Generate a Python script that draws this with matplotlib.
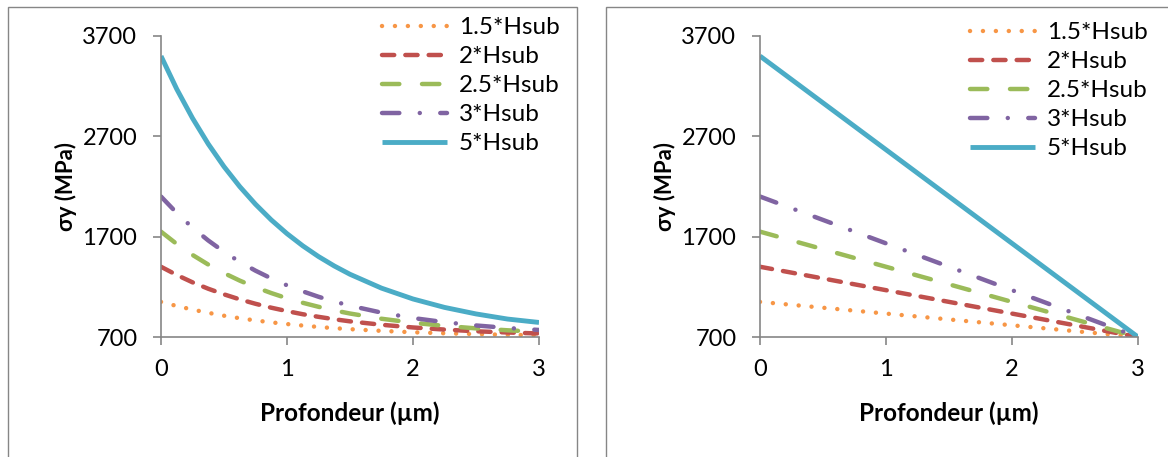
import matplotlib
matplotlib.use("Agg")
import matplotlib.pyplot as plt
from matplotlib.patches import Rectangle

plt.rcParams['font.family'] = ['Lato', 'DejaVu Sans']

# depth (um)
x_curve = [0, 0.125, 0.25, 0.375, 0.5, 0.625, 0.75, 0.875, 1, 1.125, 1.25,
           1.375, 1.5, 1.75, 2, 2.25, 2.5, 2.75, 3]
x_line = [0, 3]

labels = ["1.5*Hsub", "2*Hsub", "2.5*Hsub", "3*Hsub", "5*Hsub"]
colors = ["#F79646", "#C0504D", "#9BBB59", "#8064A2", "#4BACC6"]

# left panel: decay curves
left_15 = [1050, 1009, 973, 941, 912, 887, 865, 846, 829, 814, 800, 788, 778,
           761, 747, 737, 729, 722, 717]
left_2 = [1400, 1318, 1245, 1181, 1125, 1075, 1031, 992, 958, 927, 901, 877,
          856, 822, 795, 774, 757, 745, 735]
left_25 = [1750, 1627, 1518, 1422, 1337, 1262, 1196, 1138, 1086, 1041, 1001,
           965, 934, 882, 842, 811, 786, 767, 752]
left_3 = [2100, 1936, 1790, 1662, 1549, 1449, 1361, 1284, 1215, 1155, 1101,
          1054, 1012, 943, 889, 848, 815, 790, 770]
left_5 = [3500, 3171, 2881, 2624, 2398, 2199, 2023, 1867, 1730, 1609, 1502,
          1408, 1325, 1187, 1079, 995, 930, 879, 845]

# right panel: straight lines down to 700 at 3 um
right_15 = [1050, 700]
right_2 = [1400, 700]
right_25 = [1750, 700]
right_3 = [2100, 700]
right_5 = [3500, 700]

styles = [(0, (0.01, 2.9)), (0, (2.75, 2.5)), (0, (3.9, 5.1)),
          (0, (3.9, 4.6, 0.01, 4.6)), "-"]
widths = [3.2, 3.2, 3.2, 3.2, 3.5]

W, H = 1168, 457
fig = plt.figure(figsize=(W / 100, H / 100), dpi=100)
grey = "#868686"

# panel borders
for (x0, x1) in [(8, 577), (605.5, 1190)]:
    fig.add_artist(Rectangle((x0 / W, -0.05), (x1 - x0) / W, 1.05 - 6.5 / H,
                             transform=fig.transFigure, fill=False,
                             edgecolor=grey, lw=1.0))

panels = [
    (161, [left_15, left_2, left_25, left_3, left_5], x_curve, 382, 17),
    (760, [right_15, right_2, right_25, right_3, right_5], x_line, 970, 22),
]

for left_px, series, xs, leg_x, leg_y in panels:
    ax = fig.add_axes([left_px / W, (H - 337) / H, 378 / W, 301 / H])
    for ys, lab, c, ls, lw in zip(series, labels, colors, styles, widths):
        ax.plot(xs, ys, color=c, linestyle=ls, lw=lw, label=lab,
                dash_capstyle='round', solid_capstyle='butt')
    ax.set_xlim(0, 3)
    ax.set_ylim(700, 3700)
    ax.set_xticks([0, 1, 2, 3])
    ax.set_yticks([700, 1700, 2700, 3700])
    for s in ["top", "right"]:
        ax.spines[s].set_visible(False)
    for s in ["left", "bottom"]:
        ax.spines[s].set_color(grey)
        ax.spines[s].set_linewidth(1.2)
    ax.tick_params(axis='y', direction='out', length=6, width=1.2, color=grey,
                   pad=11, labelsize=17)
    ax.tick_params(axis='x', direction='out', length=6, width=1.2, color=grey,
                   pad=10, labelsize=17)
    ax.set_xlabel("Profondeur (µm)", fontsize=17.5, fontweight='bold', va='center')
    ax.set_ylabel("σy (MPa)", fontsize=16, fontweight='bold', va='center')
    ax.xaxis.set_label_coords(0.5, -0.252)
    ax.yaxis.set_label_coords(-0.251, 0.5)
    ax.legend(loc='upper left', bbox_to_anchor=(leg_x / W, 1 - leg_y / H),
              bbox_transform=fig.transFigure, frameon=False, fontsize=17.5,
              handlelength=2.67, handletextpad=0.5, labelspacing=0.33,
              borderpad=0, borderaxespad=0)

fig.savefig("out.png", dpi=100)
